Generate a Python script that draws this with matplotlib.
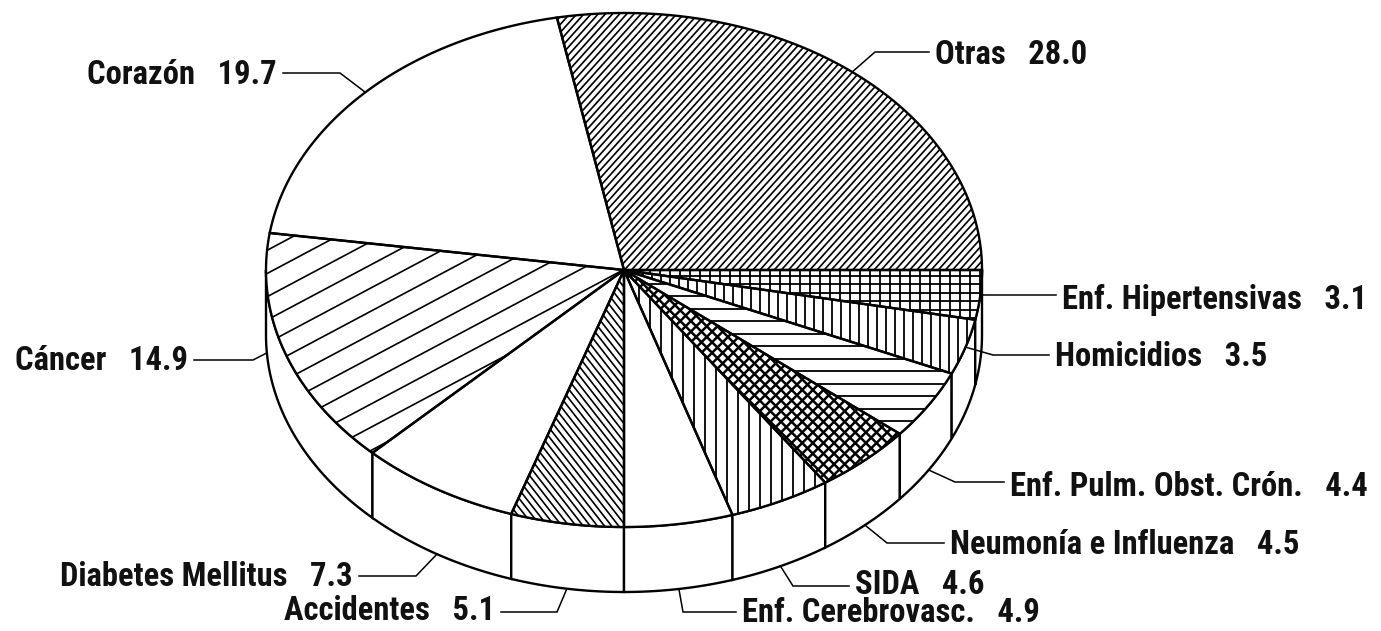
import numpy as np
import matplotlib
matplotlib.use("Agg")
import matplotlib.pyplot as plt
from matplotlib.patches import Polygon
from matplotlib.collections import LineCollection

# Data: causes of death (%), going counter-clockwise from 3 o'clock
labels = ['Otras', 'Corazón', 'Cáncer', 'Diabetes Mellitus', 'Accidentes',
          'Enf. Cerebrovasc.', 'SIDA', 'Neumonía e Influenza',
          'Enf. Pulm. Obst. Crón.', 'Homicidios', 'Enf. Hipertensivas']
values = [28.0, 19.7, 14.9, 7.3, 5.1, 4.9, 4.6, 4.5, 4.4, 3.5, 3.1]

# hatch style per slice: list of (angle in degrees, spacing px), line width pt
hatches = [
    ([(48, 5.3)], 1.2),
    ([], 1.0),
    ([(28, 20.5)], 1.2),
    ([], 1.0),
    ([(-52, 5.6)], 1.2),
    ([], 1.0),
    ([(90, 11)], 1.3),
    ([(45, 7.5), (-45, 7.5)], 1.8),
    ([(0, 12.5)], 1.3),
    ([(90, 9)], 1.3),
    ([(90, 10), (0, 8.5)], 1.3),
]

# label layout: text x, text center y, alignment, elbow x, leader y
label_layout = [
    (935, 52, 'left', 875, 52),
    (277, 72, 'right', 340, 73),
    (188, 358, 'right', 253, 360),
    (353, 575, 'right', 416, 576),
    (495, 609, 'right', 557, 612),
    (742, 611, 'left', 683, 612),
    (855, 582, 'left', 793, 586),
    (950, 543, 'left', 887, 543),
    (1010, 485, 'left', 955, 482),
    (1055, 355, 'left', 993, 355),
    (1062, 297, 'left', 1000, 295),
]
anchor_override = {2: 184.0}

# pie geometry in pixels
cx, cy = 624, 270
rx, ry = 358, 257
depth = 65
edge_lw = 1.7

plt.rcParams['font.family'] = ['Roboto Condensed', 'Liberation Sans', 'DejaVu Sans']

fig = plt.figure(figsize=(13.81, 6.31), dpi=100)
ax = fig.add_axes([0, 0, 1, 1])
ax.set_xlim(0, 1381)
ax.set_ylim(631, 0)
ax.axis('off')


def pt(t, level=0.0):
    t = np.radians(t)
    return cx + rx * np.cos(t), cy - ry * np.sin(t) + level * depth


def arc(a0, a1, level=0.0):
    ts = np.linspace(a0, a1, max(int(abs(a1 - a0) * 2), 2))
    xs, ys = pt(ts, level)
    return np.column_stack([xs, ys])


def add_hatch(patch, angle, spacing, lw, z):
    verts = patch.get_xy()
    c = verts.mean(axis=0)
    R = np.hypot(*(verts.max(axis=0) - verts.min(axis=0)))
    a = np.radians(angle)
    d = np.array([np.cos(a), -np.sin(a)])
    n = np.array([np.sin(a), np.cos(a)])
    k = int(R / spacing) + 2
    segs = []
    for i in range(-k, k + 1):
        o = c + n * i * spacing
        segs.append([o - d * R, o + d * R])
    lc = LineCollection(segs, colors='black', linewidths=lw, zorder=z)
    ax.add_collection(lc)
    lc.set_clip_path(patch)


bounds = np.concatenate([[0], np.cumsum(values)]) * 3.6

# side walls (front half only)
for i in range(len(values)):
    lo, hi = max(bounds[i], 180), min(bounds[i + 1], 360)
    if hi <= lo:
        continue
    poly = np.vstack([arc(lo, hi, 0), arc(hi, lo, 1)])
    ax.add_patch(Polygon(poly, closed=True, facecolor='white',
                         edgecolor='black', lw=edge_lw, zorder=1))

# top face wedges
for i in range(len(values)):
    a0, a1 = bounds[i], bounds[i + 1]
    poly = np.vstack([[cx, cy], arc(a0, a1, 0)])
    face = Polygon(poly, closed=True, facecolor='white', edgecolor='none', zorder=2)
    ax.add_patch(face)
    specs, hlw = hatches[i]
    for ang, sp in specs:
        add_hatch(face, ang, sp, hlw, 3)
    ax.add_patch(Polygon(poly, closed=True, fill=False, edgecolor='black',
                         lw=edge_lw, joinstyle='miter', zorder=4))

# labels with leader lines
mids = (bounds[:-1] + bounds[1:]) / 2
for i, (lab, val) in enumerate(zip(labels, values)):
    tx, ty, ha, ex, ly = label_layout[i]
    m = anchor_override.get(i, mids[i])
    level = 1 if 180 < m < 337 else 0
    axx, ayy = pt(m, level)
    lx = tx - 6 if ha == 'left' else tx + 6
    ax.plot([axx, ex, lx], [ayy, ly, ly], color='black', lw=1.1,
            solid_joinstyle='miter', zorder=5)
    ax.text(tx, ty + 11.5, f'{lab}   {val:.1f}', ha=ha, va='baseline',
            fontsize=23.5, fontweight='bold', color='#111111', zorder=6)

fig.savefig('out.png', dpi=100, facecolor='white')
